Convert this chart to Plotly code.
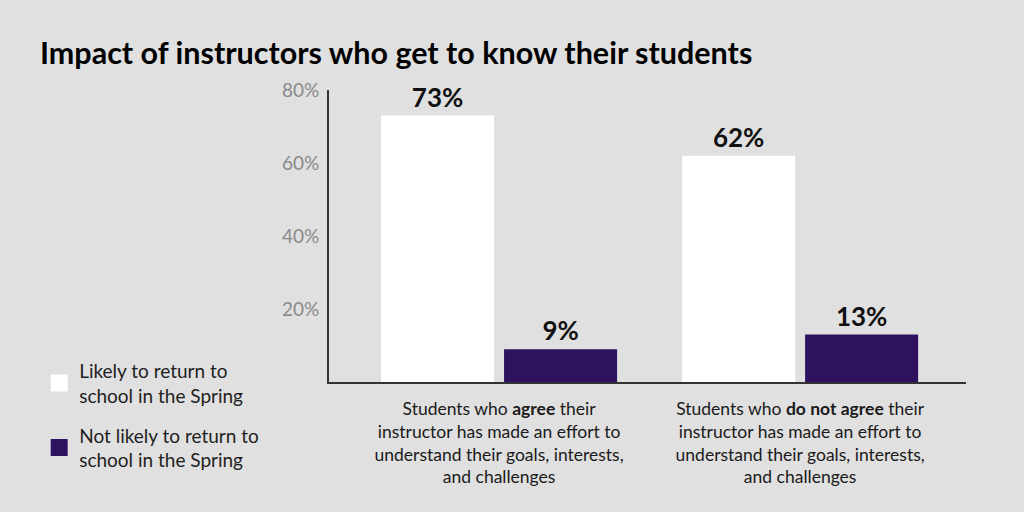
import plotly.graph_objects as go

categories = [
    "Students who <b>agree</b> their<br>instructor has made an effort to<br>understand their goals, interests,<br>and challenges",
    "Students who <b>do not agree</b> their<br>instructor has made an effort to<br>understand their goals, interests,<br>and challenges",
]
likely = [73, 62]
not_likely = [9, 13]
series_names = ["Likely to return to<br>school in the Spring",
                "Not likely to return to<br>school in the Spring"]
colors = ["#ffffff", "#2e1260"]
y_ticks = [20, 40, 60, 80]
y_labels = ["20%", "40%", "60%", "80%"]

FONT = "Lato"
BG = "#e0e0e0"

fig = go.Figure()
for name, vals, col in zip(series_names, [likely, not_likely], colors):
    fig.add_trace(go.Bar(
        x=categories, y=vals, name=name, legendgroup=name,
        marker=dict(color=col, line=dict(width=0)),
        texttemplate="<b>%{y}%</b>", textposition="outside",
        textfont=dict(family=FONT, size=26, color="#111111"),
        cliponaxis=False, showlegend=False, hoverinfo="skip",
    ))
for name, col in zip(series_names, colors):
    # legend-only proxy on a hidden axis pair, for a bigger swatch
    fig.add_trace(go.Bar(
        x=[None], y=[None], name=name, legendgroup=name,
        xaxis="x2", yaxis="y2",
        marker=dict(color=col, line=dict(color=col, width=18)),
        hoverinfo="skip",
    ))

fig.update_layout(
    width=1024, height=512,
    paper_bgcolor=BG, plot_bgcolor=BG,
    margin=dict(l=329, r=58, t=90, b=130),
    barmode="group", bargap=0.183, bargroupgap=0.081,
    font=dict(family=FONT, color="#222222"),
    title=dict(text="<b>Impact of instructors who get to know their students</b>",
               x=40 / 1024, xanchor="left", y=1 - 53 / 512, yanchor="middle",
               font=dict(family=FONT, size=30.5, color="#000000")),
    legend=dict(x=-0.455, xanchor="left", y=0.103, yanchor="top",
                font=dict(family=FONT, size=19, color="#1e1e1e"),
                bgcolor="rgba(0,0,0,0)", tracegroupgap=12, itemwidth=30),
    xaxis=dict(range=[-0.565, 1.551], showline=True, linecolor="#333333",
               linewidth=2, ticks="", showgrid=False, zeroline=False,
               ticklabelstandoff=10,
               tickfont=dict(family=FONT, size=17.5, color="#1a1a1a")),
    yaxis=dict(range=[0, 80], showline=True, linecolor="#333333", linewidth=2,
               ticks="", showgrid=False, zeroline=False,
               tickvals=y_ticks, ticktext=y_labels, ticklabelstandoff=4,
               tickfont=dict(family=FONT, size=19, color="#8a8a8a")),
    xaxis2=dict(overlaying="x", visible=False),
    yaxis2=dict(overlaying="y", visible=False),
)

fig.write_html("out.html", config={"displayModeBar": False},
               post_script="document.body.style.margin='0';")
